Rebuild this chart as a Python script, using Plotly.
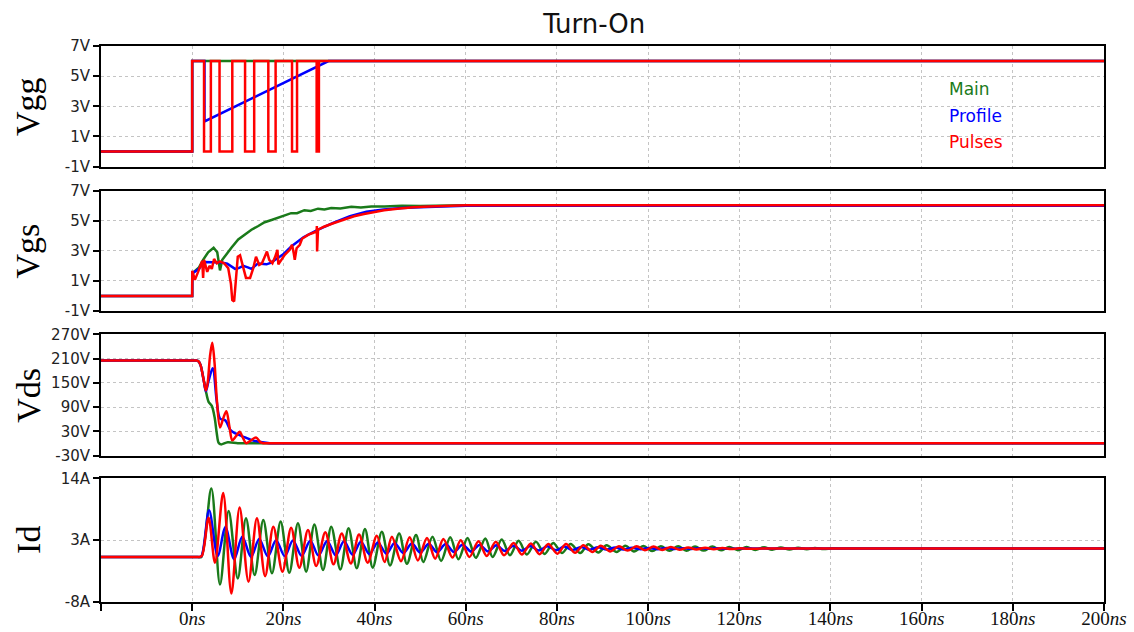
import plotly.graph_objects as go
from plotly.subplots import make_subplots

GREEN = "#1a7a1a"
BLUE = "#0000ff"
RED = "#ff0000"

# ---------------- Vgg ----------------
vgg_main_t = [-20, 0, 200]
vgg_main_v = [0, 6, 6]
vgg_profile_t = [-20, 0, 0, 2.7, 2.7, 29.9, 200]
vgg_profile_v = [0, 0, 6, 6, 2, 6, 6]
vgg_pulses_t = [-20, 0, 2.6, 4.1, 6.0, 8.8, 11.6, 13.6, 16.7, 18.3, 21.9, 23.0, 27.3, 27.8, 200]
vgg_pulses_v = [0, 6, 0, 6, 0, 6, 0, 6, 0, 6, 0, 6, 0, 6, 6]

# ---------------- Vgs ----------------
vgs_main_t = [-20, 0, 0.02, 1.5, 2.4, 3.5, 4.7, 5.5, 5.8, 6.1, 6.6, 7.5, 8.6, 10.1, 11.5, 13.0, 14.5,
              15.9, 17.4, 19.6, 21.7, 23.0, 24.6, 26.0, 27.6, 29.0, 30.5, 32.5, 34.9, 37.0, 39.3,
              42.2, 46, 50, 55, 60, 200]
vgs_main_v = [0, 0, 1.5, 1.9, 2.4, 2.9, 3.2, 2.9, 2.3, 1.7, 2.4, 2.8, 3.2, 3.75, 4.05, 4.4, 4.65,
              4.9, 5.05, 5.3, 5.5, 5.5, 5.7, 5.65, 5.8, 5.75, 5.85, 5.82, 5.92, 5.88, 5.95,
              5.95, 6.0, 5.98, 6.02, 6.02, 6.03]
vgs_profile_t = [-20, 0, 0.02, 1.5, 2.6, 4, 6.4, 7.7, 8.6, 9.4, 10.2, 11.2, 12.2, 13.0, 14.4, 15.4,
                 16.3, 17.2, 18.1, 19.9, 21.8, 24.4, 27.3, 30.9, 34.6, 38.2, 42, 46, 50, 55, 60, 70, 200]
vgs_profile_v = [0, 0, 1.5, 1.8, 2.25, 2.25, 2.22, 2.15, 1.95, 1.8, 1.85, 2.0, 1.9, 1.8, 2.15, 2.1,
                 2.1, 2.2, 2.4, 2.75, 3.3, 3.9, 4.35, 4.85, 5.3, 5.6, 5.75, 5.85, 5.9, 5.95, 5.99, 6.0, 6.0]
vgs_pulses_t = [-20, 0.0, 0.02, 0.6, 1.3, 2.2, 2.4, 2.6, 3.3, 3.8, 4.3, 4.8, 5.4, 6.1, 7.0, 7.9, 8.5,
                8.8, 9.2, 9.5, 10.0, 10.5, 11.2, 11.8, 12.7, 13.4, 14.0, 14.7, 15.3, 16.0, 16.4, 16.9,
                17.6, 18.2, 18.7, 18.9, 19.6, 20.3, 21.4, 21.9, 22.3, 22.5, 22.9, 23.6, 24.1, 25.5,
                26.6, 27.3, 27.35, 27.4, 27.6, 28.9, 31.1, 33.3, 35.5, 37.7, 39.9, 42.1, 45, 48.5,
                52, 56, 60, 70, 200]
vgs_pulses_v = [0, 0, 1.67, 1.07, 1.6, 2.33, 1.2, 2.4, 1.6, 2.0, 1.8, 2.46, 2.17, 2.3, 2.17, 1.85, 0.8,
                -0.27, -0.37, 0.73, 2.6, 2.7, 1.85, 1.2, 1.2, 1.85, 2.6, 2.06, 2.17, 2.7, 2.95, 2.4,
                2.17, 2.6, 3.06, 2.1, 2.4, 2.73, 3.06, 3.4, 2.8, 2.4, 3.17, 3.4, 3.8, 4.07,
                4.2, 4.3, 4.65, 2.95, 4.4, 4.6, 4.85, 5.1, 5.3, 5.45, 5.6, 5.7, 5.8, 5.9,
                5.95, 6.0, 6.02, 6.03, 6.03]

# ---------------- Vds ----------------
vds_main_t = [-20, 0, 1.0, 1.3, 1.8, 2.5, 3.0, 3.6, 4.3, 4.9, 5.4, 5.8, 6.3, 7.8, 10, 12, 14, 200]
vds_main_v = [205, 205, 205, 204, 195, 158, 130, 103, 93, 66, 25, 2, -2, 3.3, 1, 1, 1, 1]
vds_profile_t = [-20, 0, 1.0, 1.3, 1.8, 2.5, 3.0, 3.6, 4.5, 5.4, 6.1, 7.3, 8.4, 9.5, 11.0, 13.2,
                 15.4, 17, 19, 200]
vds_profile_v = [205, 205, 205, 204, 195, 158, 129, 155, 186, 103, 62, 57, 33, 25, 18, 8,
                 3, 1, 1, 1]
vds_pulses_t = [-20, 0, 1.0, 1.3, 1.8, 2.5, 3.0, 3.4, 3.9, 4.4, 4.9, 5.4, 6.1, 6.8, 7.5, 8.2, 8.8,
                9.6, 10.4, 11.1, 11.8, 12.9, 14.0, 15.0, 15.6, 17, 19, 200]
vds_pulses_v = [205, 205, 205, 204, 195, 158, 131, 150, 215, 249, 200, 110, 40, 62, 80, 40, 8,
                18, 29, 15, 1, 8, 15, 3, 1, 1, 1, 1]

# ---------------- Id ----------------
id_main_t = [-20, 0, 1.2, 2.0, 4.2, 6.1, 8.0, 10.0, 11.8, 13.7, 15.6, 17.5, 19.4, 21.3, 23.2, 25.0,
             26.8, 28.7, 30.5, 32.5, 34.3, 36.1, 37.9, 39.6, 41.6, 43.4, 45.4, 47.1, 49.1, 50.7,
             52.7, 54.6, 56.6, 58.4, 60.4, 62.2, 64.3, 65.9, 67.9, 69.7, 71.6, 73.4, 75.4, 77.3,
             79.2, 81.1, 83.0, 85.1, 86.9, 89.1, 90.9, 93.1, 95.0, 96.9, 99.0, 100.9, 102.8, 104.7,
             106.6, 108.4, 110.3, 112.2, 114.1, 116.0, 117.8, 119.7, 121.6, 123.5, 125.4, 127.2,
             129.1, 131.0, 132.9, 134.8, 136.6, 138.5, 140.4, 143, 150, 200]
id_main_v = [0, 0, 0, 0.0, 12.2, -4.9, 8.2, -3.8, 6.9, -3.2, 6.6, -2.9, 6.3, -2.8, 6.0, -2.6,
             5.8, -2.3, 5.4, -2.2, 5.1, -2.0, 5.0, -1.9, 4.5, -1.5, 4.2, -1.2, 3.9, -0.9,
             3.6, -0.7, 3.5, -0.4, 3.4, -0.15, 3.3, 0.0, 3.1, 0.3, 2.9, 0.45, 2.7, 0.55,
             2.5, 0.7, 2.3, 0.7, 2.25, 0.8, 2.1, 0.9, 2.0, 1.0, 1.95, 1.05, 1.9, 1.1,
             1.9, 1.12, 1.85, 1.15, 1.85, 1.2, 1.8, 1.22, 1.78, 1.25, 1.72, 1.3,
             1.68, 1.35, 1.64, 1.38, 1.6, 1.42, 1.56, 1.5, 1.5, 1.5]
id_profile_t = [-20, 0, 1.2, 2.0, 3.7, 5.6, 7.3, 9.2, 11.0, 12.9, 14.7, 16.6, 18.4, 20.3, 22.1, 24.0,
                25.9, 27.7, 29.6, 31.5, 33.3, 35.2, 37.0, 38.9, 40.7, 42.6, 44.4, 46.3, 48.2, 50.0,
                51.9, 53.7, 55.6, 57.4, 59.3, 61.2, 63.0, 64.9, 66.7, 68.6, 70.5, 72.3, 74.2, 76.0,
                77.9, 79.8, 81.6, 83.5, 85.3, 87.2, 89.0, 90.9, 92.8, 94.6, 96.5, 98.4, 100.2,
                102.1, 104.0, 105.8, 107.7, 109.5, 111.4, 113.3, 115.1, 117.0, 120, 130, 200]
id_profile_v = [0, 0, 0, 0.1, 8.3, 0.2, 5.3, -0.4, 3.6, 0.0, 3.2, 0.1, 3.0, 0.15, 2.95, 0.2,
                2.9, 0.25, 2.85, 0.3, 2.8, 0.4, 2.7, 0.5, 2.6, 0.6, 2.5, 0.7, 2.4, 0.8,
                2.35, 0.85, 2.3, 0.9, 2.2, 0.95, 2.15, 1.0, 2.1, 1.05, 2.0, 1.1, 1.95, 1.15,
                1.9, 1.2, 1.85, 1.25, 1.8, 1.3, 1.75, 1.32, 1.7, 1.35, 1.65, 1.38, 1.62,
                1.4, 1.6, 1.42, 1.58, 1.44, 1.56, 1.46, 1.54, 1.47, 1.5, 1.5, 1.5]
id_pulses_t = [-20, 0, 1.3, 2.1, 3.6, 5.0, 6.8, 8.6, 10.4, 12.35, 14.2, 16.0, 17.8, 19.8, 21.7,
               23.5, 25.4, 27.2, 29.2, 31.0, 32.8, 34.8, 36.6, 38.5, 40.5, 42.2, 43.8, 45.8, 47.7,
               49.5, 51.5, 53.3, 55.1, 57.1, 58.9, 60.8, 62.8, 64.6, 66.6, 68.4, 70.5, 72.3, 74.3,
               76.2, 78.1, 80.1, 82.0, 84.0, 85.8, 87.8, 89.6, 91.7, 93.6, 95.5, 97.5, 99.3,
               101.2, 103.1, 105.0, 106.9, 108.8, 110.6, 112.5, 114.4, 116.3, 118.2, 120.0, 122,
               125, 135, 200]
id_pulses_v = [0, 0, 0, 0.2, 7.0, -1.0, 11.4, -6.5, 8.8, -4.4, 6.9, -3.4, 5.4, -2.6, 5.2,
               -1.9, 4.8, -1.6, 4.4, -1.3, 4.2, -1.15, 4.0, -1.0, 3.8, -0.9, 3.6, -0.75, 3.5,
               -0.6, 3.4, -0.3, 3.2, -0.1, 3.0, 0.0, 2.8, 0.2, 2.7, 0.3, 2.5, 0.45, 2.4,
               0.5, 2.3, 0.6, 2.3, 0.75, 2.1, 0.9, 2.0, 1.0, 1.9, 1.15, 1.9, 1.2,
               1.85, 1.25, 1.8, 1.3, 1.7, 1.35, 1.65, 1.4, 1.6, 1.42, 1.55, 1.48,
               1.5, 1.5, 1.5]

# ---------------- axes ----------------
x_ticks = [-20, 0, 20, 40, 60, 80, 100, 120, 140, 160, 180, 200]
x_ticktext = [""] + [f"{v}<i>ns</i>" for v in x_ticks[1:]]
panel_names = ["Vgg", "Vgs", "Vds", "Id"]
panel_ranges = [[-1, 7], [-1, 7], [-30, 270], [-8, 14]]
panel_ticks = [[-1, 1, 3, 5, 7], [-1, 1, 3, 5, 7], [-30, 30, 90, 150, 210, 270], [-8, 3, 14]]
panel_units = ["V", "V", "V", "A"]
panel_domains = [[0.783, 1.0], [0.5234, 0.7399], [0.2631, 0.4815], [0.0, 0.2225]]

fig = make_subplots(rows=4, cols=1, shared_xaxes=True)

series = [
    [(vgg_main_t, vgg_main_v, GREEN, "hv"), (vgg_profile_t, vgg_profile_v, BLUE, "linear"),
     (vgg_pulses_t, vgg_pulses_v, RED, "hv")],
    [(vgs_main_t, vgs_main_v, GREEN, "linear"), (vgs_profile_t, vgs_profile_v, BLUE, "linear"),
     (vgs_pulses_t, vgs_pulses_v, RED, "linear")],
    [(vds_main_t, vds_main_v, GREEN, "spline"), (vds_profile_t, vds_profile_v, BLUE, "spline"),
     (vds_pulses_t, vds_pulses_v, RED, "spline")],
    [(id_main_t, id_main_v, GREEN, "spline"), (id_profile_t, id_profile_v, BLUE, "spline"),
     (id_pulses_t, id_pulses_v, RED, "spline")],
]

for r, group in enumerate(series, start=1):
    for t, v, c, shape in group:
        line = dict(color=c, width=2.5, shape=shape)
        if shape == "spline":
            line["smoothing"] = 0.9
        fig.add_trace(go.Scatter(x=t, y=v, mode="lines", line=line, showlegend=False,
                                 hoverinfo="skip"), row=r, col=1)

tick_font = dict(family="DejaVu Sans", size=15, color="#222222")
for r in range(1, 5):
    fig.update_yaxes(
        row=r, col=1, domain=panel_domains[r - 1], range=panel_ranges[r - 1],
        tickvals=panel_ticks[r - 1],
        ticktext=[f"{v}{panel_units[r - 1]}" for v in panel_ticks[r - 1]],
        ticks="outside", ticklen=6, tickwidth=2, tickcolor="black",
        showline=True, linecolor="black", linewidth=2, mirror=True,
        showgrid=True, gridcolor="#c4c4c4", griddash="dot", gridwidth=1,
        zeroline=False, tickfont=tick_font, automargin=False,
    )
    bottom = (r == 4)
    fig.update_xaxes(
        row=r, col=1, range=[-20, 200], tickvals=x_ticks, ticktext=x_ticktext,
        ticks="outside" if bottom else "", ticklen=7, tickwidth=2, tickcolor="black",
        showticklabels=bottom, ticklabelstandoff=-9,
        showline=True, linecolor="black", linewidth=2, mirror=True,
        showgrid=True, gridcolor="#c4c4c4", griddash="dot", gridwidth=1,
        zeroline=False, automargin=False,
        tickfont=dict(family="Liberation Serif", size=19, color="#111111"),
    )

annotations = []
for name, dom in zip(panel_names, panel_domains):
    annotations.append(dict(
        text=name, xref="paper", yref="paper", x=-0.073, y=(dom[0] + dom[1]) / 2,
        xanchor="center", yanchor="middle", textangle=-90, showarrow=False,
        font=dict(family="Liberation Serif", size=34, color="black"),
    ))
legend_items = [("Main", GREEN, 0.922), ("Profile", BLUE, 0.874), ("Pulses", RED, 0.828)]
for txt, col, yy in legend_items:
    annotations.append(dict(
        text=txt, xref="paper", yref="paper", x=0.843, y=yy, xanchor="left", yanchor="middle",
        showarrow=False, font=dict(family="DejaVu Sans", size=17, color=col),
    ))

fig.update_layout(
    width=1134, height=632,
    margin=dict(l=101, r=30, t=46, b=30),
    paper_bgcolor="white", plot_bgcolor="white",
    title=dict(text="Turn-On", x=0.524, xanchor="center", y=0.962, yanchor="middle",
               font=dict(family="DejaVu Sans", size=26, color="#111111")),
    annotations=annotations,
)

fig.write_html("out.html")
